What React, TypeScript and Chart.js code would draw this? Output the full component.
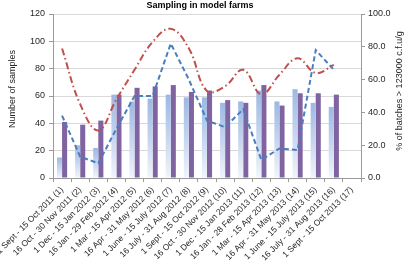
import { useEffect, useRef } from 'react';
import { Chart, registerables } from 'chart.js';

Chart.register(...registerables);

// Sampling periods (x axis)
const periods = [
  '1 Sept - 15 Oct 2011 (1)',
  '16 Oct - 30 Nov 2011 (2)',
  '1 Dec - 15 Jan 2012 (3)',
  '16 Jan - 29 Feb 2012 (4)',
  '1 Mar - 15 Apr 2012 (5)',
  '16 Apr - 31 May 2012 (6)',
  '1 June - 15 July 2012 (7)',
  '16 July - 31 Aug 2012 (8)',
  '1 Sept - 15 Oct 2012 (9)',
  '16 Oct - 30 Nov 2012 (10)',
  '1 Dec - 15 Jan 2013 (11)',
  '16 Jan - 28 Feb 2013 (12)',
  '1 Mar - 15 Apr 2013 (13)',
  '16 Apr - 31 May 2013 (14)',
  '1 June - 15 July 2013 (15)',
  '16 July - 31 Aug 2013 (16)',
  '1 Sept - 15 Oct 2013 (17)',
];

// Number of samples per period (left axis)
const samplesFarmA = [15, 24, 22, 61, 56, 58, 61, 59, 59, 55, 56, 64, 56, 65, 55, 52, null];
const samplesFarmB = [41, 39, 42, 61, 66, 67, 68, 63, 64, 57, 55, 68, 53, 62, 62, 61, null];

// % of batches above the threshold (right axis)
const pctFarmA = [38, 13, 9, 30, 50, 50, 82, 60, 35, 31, 42, 11, 18, 17, 78, 66, null];
const pctFarmB = [79, 45, 29, 48, 66, 83, 91, 79, 53, 56, 66, 51, 63, 73, 64, 69, null];

const countTicks = [0, 20, 40, 60, 80, 100, 120];
const pctTicks = [0, 20, 40, 60, 80, 100];

const TITLE = 'Sampling in model farms';
const LEFT_TITLE = 'Number of samples';
const RIGHT_TITLE = '% of batches > 123000 c.f.u/g';

const FONT = '"Liberation Sans", Arial, sans-serif';
const TEXT = '#262626';
const AXIS = '#9a9a9a';
const GRID = '#d9d9d9';

const titlesPlugin = {
  id: 'samplingTitles',
  afterDraw(chart: any) {
    const { ctx } = chart;
    ctx.save();
    ctx.fillStyle = '#000';
    ctx.textAlign = 'center';
    ctx.textBaseline = 'alphabetic';
    ctx.font = `bold 9px ${FONT}`;
    ctx.fillText(TITLE, 200, 8);

    ctx.fillStyle = TEXT;
    ctx.font = `9px ${FONT}`;
    ctx.textBaseline = 'middle';
    ctx.save();
    ctx.translate(13, 89);
    ctx.rotate(-Math.PI / 2);
    ctx.fillText(LEFT_TITLE, 0, 0);
    ctx.restore();

    ctx.save();
    ctx.translate(400, 91);
    ctx.rotate(-Math.PI / 2);
    ctx.fillText(RIGHT_TITLE, 0, 0);
    ctx.restore();
    ctx.restore();
  },
};

function lightBarFill(c: any) {
  const chart = c.chart;
  const v = c.raw;
  if (c.type !== 'data' || v == null || !chart.chartArea) return '#a9c0e6';
  const y = chart.scales.y;
  const top = y.getPixelForValue(v);
  const bottom = y.getPixelForValue(0);
  const g = chart.ctx.createLinearGradient(0, top, 0, bottom);
  g.addColorStop(0, '#9cb8e3');
  g.addColorStop(0.5, '#c5d5ef');
  g.addColorStop(1, '#f1f5fb');
  return g;
}

export default function App() {
  const ref = useRef<HTMLCanvasElement | null>(null);

  useEffect(() => {
    if (!ref.current) return;
    const chart = new Chart(ref.current, {
      type: 'bar',
      data: {
        labels: periods,
        datasets: [
          {
            type: 'line',
            label: '% batches (A)',
            data: pctFarmA,
            yAxisID: 'y1',
            borderColor: '#4a7ebf',
            borderWidth: 2,
            borderDash: [5, 3],
            pointRadius: 0,
            tension: 0,
            fill: false,
            order: 0,
          },
          {
            type: 'line',
            label: '% batches (B)',
            data: pctFarmB,
            yAxisID: 'y1',
            borderColor: '#c0504d',
            borderWidth: 2,
            borderDash: [7, 3, 1.5, 3],
            pointRadius: 0,
            tension: 0.4,
            fill: false,
            order: 0,
          },
          {
            type: 'bar',
            label: 'Samples (A)',
            data: samplesFarmA,
            yAxisID: 'y',
            backgroundColor: lightBarFill,
            borderWidth: 0,
            categoryPercentage: 0.56,
            barPercentage: 1,
            order: 1,
          },
          {
            type: 'bar',
            label: 'Samples (B)',
            data: samplesFarmB,
            yAxisID: 'y',
            backgroundColor: '#8064a2',
            borderWidth: 0,
            categoryPercentage: 0.56,
            barPercentage: 1,
            order: 1,
          },
        ],
      },
      options: {
        animation: false,
        responsive: false,
        maintainAspectRatio: false,
        layout: { padding: { top: 14, right: 21, left: 0, bottom: 0 } },
        plugins: {
          legend: { display: false },
          title: { display: false },
          tooltip: { enabled: false },
        },
        scales: {
          x: {
            offset: true,
            grid: {
              offset: true,
              drawOnChartArea: false,
              drawTicks: true,
              tickLength: 4,
              tickColor: AXIS,
            },
            border: { display: true, color: AXIS, width: 1 },
            ticks: {
              autoSkip: false,
              minRotation: 45,
              maxRotation: 45,
              padding: 3,
              color: TEXT,
              font: { family: FONT, size: 8.5 },
            },
            afterFit(scale: any) {
              scale.height = 91;
              scale.paddingLeft = 0;
              scale.paddingRight = 0;
            },
          },
          y: {
            position: 'left',
            min: 0,
            max: 120,
            afterBuildTicks(scale: any) {
              scale.ticks = countTicks.map((value) => ({ value }));
            },
            grid: { color: GRID, tickLength: 4, tickColor: AXIS },
            border: { display: true, color: AXIS, width: 1 },
            ticks: {
              padding: 4,
              color: TEXT,
              font: { family: FONT, size: 9 },
            },
            title: { display: false },
            afterFit(scale: any) {
              scale.width = 53;
            },
          },
          y1: {
            position: 'right',
            min: 0,
            max: 100,
            afterBuildTicks(scale: any) {
              scale.ticks = pctTicks.map((value) => ({ value }));
            },
            grid: { drawOnChartArea: false, tickLength: 4, tickColor: AXIS },
            border: { display: true, color: AXIS, width: 1 },
            ticks: {
              padding: 3,
              color: TEXT,
              font: { family: FONT, size: 9 },
              callback: (v: any) => Number(v).toFixed(1),
            },
            afterFit(scale: any) {
              scale.width = 30;
            },
          },
        },
      },
      plugins: [titlesPlugin],
    } as any);
    return () => chart.destroy();
  }, []);

  return (
    <div style={{ position: 'fixed', left: 0, top: 0, width: 412, height: 269, background: '#fff' }}>
      <canvas ref={ref} width={412} height={269} style={{ display: 'block' }} />
    </div>
  );
}
